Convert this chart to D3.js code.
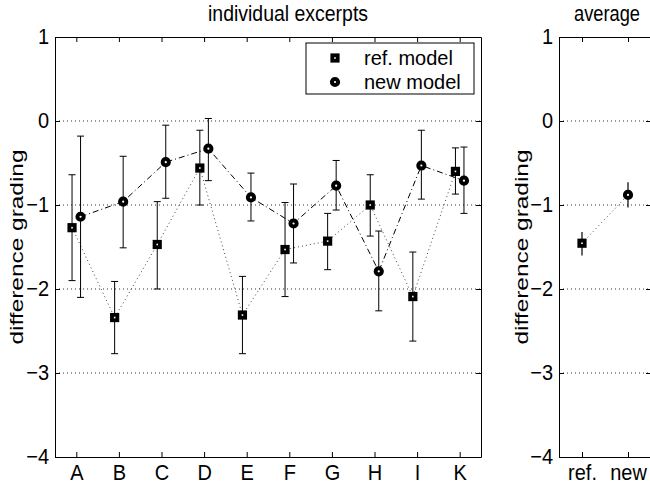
<!DOCTYPE html>
<html><head><meta charset="utf-8">
<script src="https://cdn.jsdelivr.net/npm/d3@7"></script>
<style>
body{margin:0;background:#fff}
svg{display:block;background:#fff}
text{font-family:"Liberation Sans",Arial,Helvetica,sans-serif;fill:#000}
</style>
</head><body>
<svg id="c" width="650" height="485"></svg>
<script>
// ---- data ----
const categories = ["A","B","C","D","E","F","G","H","I","K"];
const refMean = [-1.27, -2.34, -1.47, -0.56, -2.31, -1.53, -1.43, -1.00, -2.09, -0.60];
const refLow  = [-1.90, -2.77, -2.00, -1.00, -2.77, -2.09, -1.77, -1.37, -2.62, -0.87];
const refHigh = [-0.64, -1.91, -0.96, -0.11, -1.85, -0.97, -1.10, -0.64, -1.56, -0.32];
const newMean = [-1.14, -0.96, -0.49, -0.33, -0.91, -1.22, -0.77, -1.79, -0.53, -0.71];
const newLow  = [-2.10, -1.51, -0.92, -0.71, -1.19, -1.69, -1.06, -2.26, -0.93, -1.10];
const newHigh = [-0.18, -0.42, -0.05,  0.03, -0.62, -0.75, -0.47, -1.31, -0.11, -0.31];
const avgCategories = ["ref.","new"];
const avgMean = [-1.455, -0.88];
const avgLow  = [-1.60, -1.03];
const avgHigh = [-1.32, -0.73];
const yTickValues = [1, 0, -1, -2, -3, -4];
const gridValues = [0, -1, -2, -3];
const legendLabels = ["ref. model", "new model"];
const panelTitles = ["individual excerpts", "average"];
const yLabel = "difference grading";

// ---- drawing ----
const svg = d3.select("#c");
const y = d3.scaleLinear().domain([-4, 1]).range([457, 37]);
const FS = 20;
const SY = 1.12;

function drawAxes(x, cats, title, titleX, titleLen) {
  const [x0, x1] = x.range();
  const g = svg.append("g");
  g.selectAll("line.grid").data(gridValues).join("line")
    .attr("x1", x0).attr("x2", x1)
    .attr("y1", d => y(d)).attr("y2", d => y(d))
    .attr("stroke", "#000").attr("stroke-width", 0.8)
    .attr("stroke-dasharray", "1,3");
  const pos = cats.map((c, i) => i + 1);
  const fmt = i => cats[i - 1];
  const ax = [
    g.append("g").attr("transform", `translate(0,${y(-4)})`)
      .call(d3.axisBottom(x).tickValues(pos).tickFormat(fmt).tickSize(-5).tickSizeOuter(0).tickPadding(6)),
    g.append("g").attr("transform", `translate(0,${y(1)})`)
      .call(d3.axisTop(x).tickValues(pos).tickFormat("").tickSize(-5).tickSizeOuter(0)),
    g.append("g").attr("transform", `translate(${x0},0)`)
      .call(d3.axisLeft(y).tickValues(yTickValues).tickFormat(d3.format("d")).tickSize(-5).tickSizeOuter(0).tickPadding(6)),
    g.append("g").attr("transform", `translate(${x1},0)`)
      .call(d3.axisRight(y).tickValues(yTickValues).tickFormat("").tickSize(-5).tickSizeOuter(0))
  ];
  ax.forEach(a => {
    a.selectAll("text").style("font-size", FS + "px").attr("transform", `scale(1,${SY})`);
    a.selectAll("path,line").attr("stroke", "#000").attr("stroke-width", 1);
  });
  ax[2].selectAll("text").attr("dy", (0.34 / SY) + "em");
  g.append("text").attr("transform", `translate(${titleX},21) scale(1,${SY})`)
    .attr("text-anchor", "middle").style("font-size", FS + "px")
    .attr("textLength", titleLen).attr("lengthAdjust", "spacingAndGlyphs").text(title);
  return g;
}

function drawMarker(g, marker, cx, cy) {
  if (marker === "square") {
    g.append("rect").attr("x", cx - 2.7).attr("y", cy - 2.7).attr("width", 5.4).attr("height", 5.4)
      .attr("fill", "#fff").attr("stroke", "#000").attr("stroke-width", 3.8);
  } else {
    g.append("circle").attr("cx", cx).attr("cy", cy).attr("r", 3.1)
      .attr("fill", "#fff").attr("stroke", "#000").attr("stroke-width", 4);
  }
}

function drawSeries(g, x, offset, mean, low, high, marker, dash, lineColor, capHalf) {
  const pts = mean.map((m, i) => ({x: x(i + 1 + offset), m, lo: low[i], hi: high[i]}));
  g.append("path").datum(pts)
    .attr("d", d3.line().x(d => d.x).y(d => y(d.m)))
    .attr("fill", "none").attr("stroke", lineColor).attr("stroke-width", 1)
    .attr("stroke-dasharray", dash);
  const eb = g.append("g");
  pts.forEach(p => {
    eb.append("line").attr("x1", p.x).attr("x2", p.x).attr("y1", y(p.lo)).attr("y2", y(p.hi))
      .attr("stroke", "#000").attr("stroke-width", 1);
    if (capHalf > 0) {
      [p.lo, p.hi].forEach(v => eb.append("line")
        .attr("x1", p.x - capHalf).attr("x2", p.x + capHalf).attr("y1", y(v)).attr("y2", y(v))
        .attr("stroke", "#000").attr("stroke-width", 1));
    }
  });
  pts.forEach(p => drawMarker(g, marker, p.x, y(p.m)));
}

// left panel
const xL = d3.scaleLinear().domain([0.5, 10.5]).range([55, 481]);
const gL = drawAxes(xL, categories, panelTitles[0], 288, 160);
drawSeries(gL, xL, -0.1, refMean, refLow, refHigh, "square", "1,3", "#444", 3.5);
drawSeries(gL, xL, 0.1, newMean, newLow, newHigh, "circle", "6,3,1,3", "#000", 3.5);

// legend
const lg = gL.append("g");
lg.append("rect").attr("x", 306).attr("y", 43).attr("width", 168).attr("height", 51)
  .attr("fill", "#fff").attr("stroke", "#000").attr("stroke-width", 1);
legendLabels.forEach((t, i) => {
  const cy = 58 + i * 24;
  drawMarker(lg, i === 0 ? "square" : "circle", 335, cy);
  lg.append("text").attr("transform", `translate(364,${cy + 7}) scale(1,1.05)`)
    .style("font-size", "20px").text(t);
});

// y label (left)
svg.append("text").attr("transform", "translate(23,247) rotate(-90)")
  .attr("text-anchor", "middle").style("font-size", "19px")
  .attr("textLength", 195).attr("lengthAdjust", "spacingAndGlyphs").text(yLabel);

// right panel
const xR = d3.scaleLinear().domain([0.5, 2.5]).range([559, 651]);
const gR = drawAxes(xR, avgCategories, panelTitles[1], 607, 66);
const avgPts = avgMean.map((m, i) => ({x: xR(i + 1), m, lo: avgLow[i], hi: avgHigh[i]}));
gR.append("path").datum(avgPts)
  .attr("d", d3.line().x(d => d.x).y(d => y(d.m)))
  .attr("fill", "none").attr("stroke", "#444").attr("stroke-width", 1).attr("stroke-dasharray", "1,3");
avgPts.forEach((p, i) => {
  gR.append("line").attr("x1", p.x).attr("x2", p.x).attr("y1", y(p.lo)).attr("y2", y(p.hi))
    .attr("stroke", "#000").attr("stroke-width", 1.2);
  drawMarker(gR, i === 0 ? "square" : "circle", p.x, y(p.m));
});
svg.append("text").attr("transform", "translate(528,247) rotate(-90)")
  .attr("text-anchor", "middle").style("font-size", "19px")
  .attr("textLength", 195).attr("lengthAdjust", "spacingAndGlyphs").text(yLabel);
</script>
</body></html>
